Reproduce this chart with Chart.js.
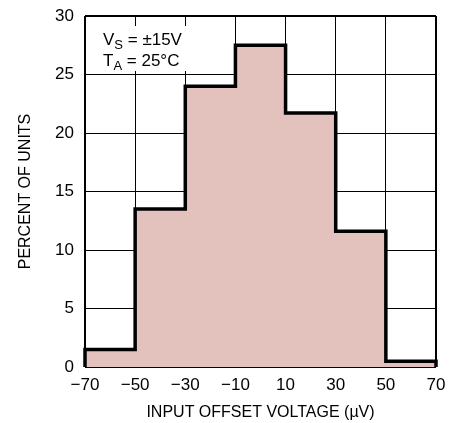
<!DOCTYPE html>
<html>
<head>
<meta charset="utf-8">
<script src="https://cdn.jsdelivr.net/npm/chart.js@4.4.1/dist/chart.umd.min.js"></script>
<style>
  html, body { margin: 0; padding: 0; background: #fff; }
  #wrap { width: 452px; height: 423px; }
</style>
</head>
<body>
<div id="wrap"><canvas id="histChart" width="452" height="423"></canvas></div>
<script>
// bin left edges (µV) and percent of units in each bin
const binEdges = [-70, -50, -30, -10, 10, 30, 50];
const binEnd = 70;
const percents = [1.5, 13.5, 24, 27.5, 21.7, 11.6, 0.5];
const xTicks = [-70, -50, -30, -10, 10, 30, 50, 70];
const yTicks = [0, 5, 10, 15, 20, 25, 30];

const FONT = "'Liberation Sans Narrow', 'Arial Narrow', 'Liberation Sans', sans-serif";

// outline points: start at 0, step through bins, drop back to 0
const points = [{ x: binEdges[0], y: 0 }];
binEdges.forEach((e, i) => points.push({ x: e, y: percents[i] }));
points.push({ x: binEnd, y: percents[percents.length - 1] });
points.push({ x: binEnd, y: 0 });

const fmt = (v) => (v < 0 ? "\u2212" + Math.abs(v) : String(v));

const edgeWidth = (ctx) =>
  ctx.index === 0 || ctx.index === ctx.scale.ticks.length - 1 ? 2 : 1;

const notePlugin = {
  id: "note",
  afterDraw(chart) {
    const c = chart.ctx;
    c.save();
    c.fillStyle = "#fff";
    c.fillRect(100, 26, 86, 45);
    c.fillStyle = "#000";
    c.textBaseline = "alphabetic";
    const big = "17px " + FONT;
    const small = "13px " + FONT;
    const line = (x, y, main, sub, rest) => {
      c.font = big;
      c.fillText(main, x, y);
      x += c.measureText(main).width;
      c.font = small;
      c.fillText(sub, x, y + 4);
      x += c.measureText(sub).width;
      c.font = big;
      c.fillText(rest, x, y);
    };
    line(103, 45, "V", "S", " = \u00b115V");
    line(103, 66, "T", "A", " = 25\u00b0C");
    c.restore();
  },
};

new Chart(document.querySelector("#histChart"), {
  type: "line",
  data: {
    datasets: [
      {
        data: points,
        stepped: true,
        fill: "origin",
        backgroundColor: "rgb(227, 193, 188)",
        borderColor: "#000",
        borderWidth: 3.5,
        pointRadius: 0,
        clip: false,
      },
    ],
  },
  options: {
    responsive: false,
    animation: false,
    layout: { padding: { top: 16, right: 16, left: 0, bottom: 0 } },
    plugins: { legend: { display: false }, tooltip: { enabled: false } },
    scales: {
      x: {
        type: "linear",
        min: -70,
        max: 70,
        afterBuildTicks: (s) => { s.ticks = xTicks.map((v) => ({ value: v })); },
        afterFit: (s) => {
          s.height = 56;
          s.paddingLeft = 0;
          s.paddingRight = 0;
        },
        grid: { color: "#000", lineWidth: edgeWidth, drawTicks: false },
        border: { display: false },
        ticks: {
          color: "#000",
          padding: 8,
          maxRotation: 0,
          font: { family: FONT, size: 17 },
          callback: fmt,
        },
        title: {
          display: true,
          text: "INPUT OFFSET VOLTAGE (\u00b5V)",
          color: "#000",
          padding: { top: 0, bottom: 1 },
          font: { family: FONT, size: 16 },
        },
      },
      y: {
        min: 0,
        max: 30,
        afterBuildTicks: (s) => { s.ticks = yTicks.map((v) => ({ value: v })); },
        afterFit: (s) => {
          s.width = 85;
          s.paddingTop = 0;
          s.paddingBottom = 0;
        },
        grid: { color: "#000", lineWidth: edgeWidth, drawTicks: false },
        border: { display: false },
        ticks: {
          color: "#000",
          padding: 11,
          font: { family: FONT, size: 17 },
          callback: fmt,
        },
        title: {
          display: true,
          text: "PERCENT OF UNITS",
          color: "#000",
          padding: { top: 16, bottom: 0 },
          font: { family: FONT, size: 16 },
        },
      },
    },
  },
  plugins: [notePlugin],
});
</script>
</body>
</html>
